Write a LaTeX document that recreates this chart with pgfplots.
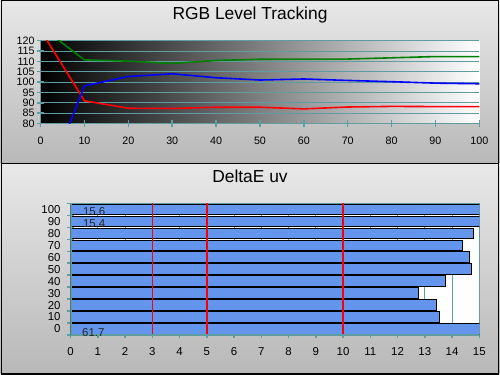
\documentclass[border=0pt]{standalone}
\usepackage{pgfplots}
\pgfplotsset{compat=1.18}
\usepackage{fontspec}
\setmainfont{Liberation Sans}
\definecolor{gridc}{RGB}{95,158,160}
\definecolor{barc}{RGB}{100,149,237}
\definecolor{pantop}{RGB}{232,232,232}
\definecolor{panbot}{RGB}{184,184,184}
\begin{document}
\begin{tikzpicture}[x=1bp,y=1bp]
\shade[top color=pantop, bottom color=panbot] (0,212) rectangle (500,376);
\shade[top color=pantop, bottom color=panbot] (0,0) rectangle (500,212);
\draw[line width=1.5bp] (0.75,0.75) rectangle (499.25,375.25);
\draw[line width=1.5bp] (0,212) -- (500,212);
\node[font=\fontsize{17.5}{20}\selectfont] at (250,361) {RGB Level Tracking};
\node[font=\fontsize{17.5}{20}\selectfont] at (250,199) {DeltaE uv};

\begin{axis}[at={(40bp,252bp)}, anchor=south west, width=440bp, height=83.3bp, scale only axis,
  /pgf/number format/assume math mode=true,
  xmin=0, xmax=100, ymin=80, ymax=120,
  xtick={0,10,...,100}, ytick={80,85,...,120},
  axis background/.style={left color=black, right color=white},
  axis x line*=bottom, axis y line*=left,
  axis line style={gridc, line width=1.5bp, -},
  ymajorgrids, grid style={gridc, line width=0.8bp},
  tick style={gridc, line width=1.5bp}, tick align=center, major tick length=7bp,
  tick label style={font=\fontsize{10.8}{12}\selectfont},
  xticklabel style={yshift=-6bp}, yticklabel style={xshift=1bp}]
\addplot[red, line width=1.6bp] coordinates {(0,125) (10,91) (20,87.4) (30,87.3) (40,87.9) (50,87.9) (60,87.1) (70,88) (80,88.3) (90,88.2) (100,88.2)};
\addplot[green!50!black, line width=1.6bp] coordinates {(0,126.7) (10,110.7) (20,110.1) (30,109) (40,110.4) (50,111) (60,111.1) (70,111.1) (80,111.7) (90,112.3) (100,112.3)};
\addplot[blue, line width=1.6bp] coordinates {(0,44.7) (10,98.2) (20,102.7) (30,104) (40,102.1) (50,101) (60,101.5) (70,100.8) (80,100.2) (90,99.5) (100,99.2)};
\end{axis}

\begin{axis}[at={(70bp,40bp)}, anchor=south west, width=410bp, height=132bp, scale only axis,
  /pgf/number format/assume math mode=true,
  xmin=0, xmax=15, ymin=-0.5, ymax=10.5,
  xbar, bar width=0.88,
  xtick={0,...,15},
  ytick={-0.5,0.5,...,10.5}, yticklabels={0,10,20,30,40,50,60,70,80,90,100,{}},
  yticklabel style={yshift=6bp, xshift=-3bp},
  axis background/.style={fill=white},
  axis line style={gridc, line width=1bp},
  xmajorgrids, grid style={gridc, line width=0.8bp},
  tick pos=left,
  tick style={gridc, line width=1.5bp}, tick align=center, major tick length=7bp,
  tick label style={font=\fontsize{11.5}{12}\selectfont},
  xticklabel style={yshift=-6bp}]
\addplot[fill=barc, draw=black, line width=1bp] coordinates {(61.7,0) (13.55,1) (13.44,2) (12.78,3) (13.77,4) (14.72,5) (14.65,6) (14.39,7) (14.79,8) (15.4,9) (15.6,10)};
\draw[red, line width=1.4bp] (axis cs:3,-0.5) -- (axis cs:3,10.5);
\draw[red, line width=1.4bp] (axis cs:5,-0.5) -- (axis cs:5,10.5);
\draw[red, line width=1.4bp] (axis cs:10,-0.5) -- (axis cs:10,10.5);
\draw[gridc, line width=2bp] (axis cs:0,-0.5) -- (axis cs:0,10.5);
\draw[gridc, line width=2bp] (axis cs:0,-0.5) -- (axis cs:15,-0.5);
\node[anchor=west, inner sep=0pt, font=\fontsize{11.5}{12}\selectfont, text=black!85] at (axis cs:0.45,9.78) {15.6};
\node[anchor=west, inner sep=0pt, font=\fontsize{11.5}{12}\selectfont, text=black!85] at (axis cs:0.45,8.81) {15.4};
\node[anchor=west, inner sep=0pt, font=\fontsize{11.5}{12}\selectfont, text=black!85] at (axis cs:0.42,-0.33) {61.7};
\end{axis}
\end{tikzpicture}
\end{document}
